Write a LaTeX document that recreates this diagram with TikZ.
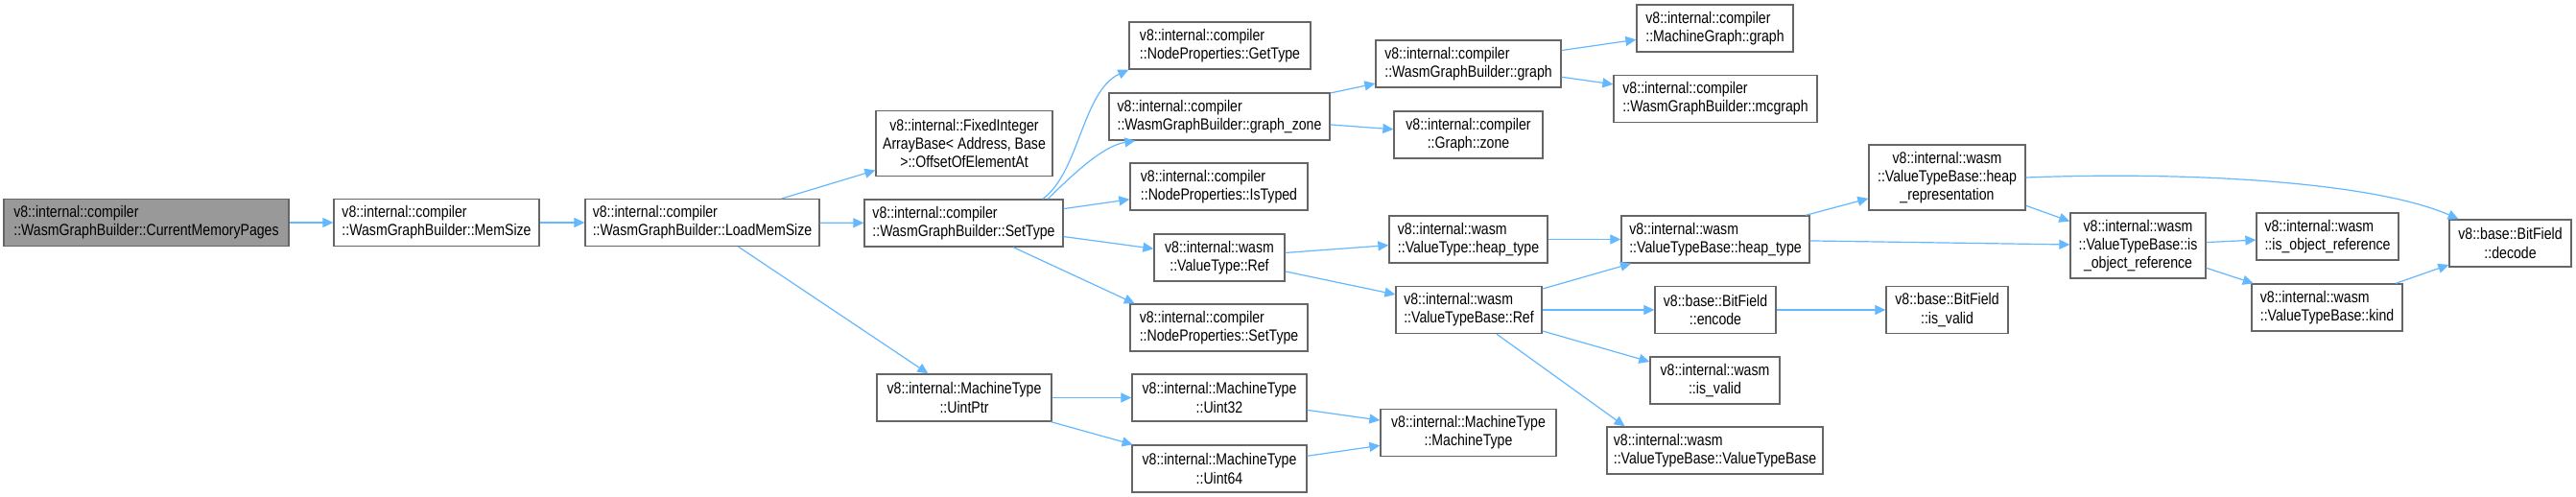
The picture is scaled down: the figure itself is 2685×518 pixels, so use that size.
\documentclass[tikz,border=0pt]{standalone}
\usepackage{fontspec}
\setmainfont[FakeStretch=0.84]{Liberation Sans}
\usetikzlibrary{arrows.meta}
\definecolor{edgeblue}{HTML}{63B8FF}
\definecolor{boxgray}{HTML}{666666}
\definecolor{curfill}{HTML}{999999}
\tikzset{
  fnode/.style={draw=boxgray, fill=white, line width=0.65pt, minimum height=24.5pt, inner xsep=1pt, align=left, font=\fontsize{8.4}{9.6}\selectfont},
  fnodec/.style={fnode, align=center},
  callarrow/.style={draw=edgeblue, line width=0.6pt, -{Triangle[length=5.5pt,width=5pt]}}
}
\begin{document}
\begin{tikzpicture}[x=0.5pt, y=-0.5pt]
\path[use as bounding box, fill=white] (0,0) rectangle (2685,518);
% column 0 to 2
\node[fnode, fill=curfill, minimum width=148.5pt] (cmp) at (152.5,232) {v8::internal::compiler\\::WasmGraphBuilder::CurrentMemoryPages};
\node[fnode, minimum width=107pt] (memsize) at (455,232) {v8::internal::compiler\\::WasmGraphBuilder::MemSize};
\node[fnode, minimum width=122pt] (loadmem) at (732,232) {v8::internal::compiler\\::WasmGraphBuilder::LoadMemSize};
\node[fnodec, minimum width=92pt, minimum height=34pt] (fixedint) at (1005,149.5) {v8::internal::FixedInteger\\ArrayBase< Address, Base\\>::OffsetOfElementAt};
\node[fnode, minimum width=103.5pt] (settype) at (1004.5,232.5) {v8::internal::compiler\\::WasmGraphBuilder::SetType};
\node[fnodec, minimum width=91pt] (uintptr) at (1005,414.5) {v8::internal::MachineType\\::UintPtr};
% column 3
\node[fnode, minimum width=94.5pt] (gettype) at (1271.5,47.5) {v8::internal::compiler\\::NodeProperties::GetType};
\node[fnode, minimum width=115pt] (graphzone) at (1271,121.5) {v8::internal::compiler\\::WasmGraphBuilder::graph\_zone};
\node[fnode, minimum width=92.5pt] (istyped) at (1270.5,194.5) {v8::internal::compiler\\::NodeProperties::IsTyped};
\node[fnodec, minimum width=68pt] (vtref) at (1271,268.5) {v8::internal::wasm\\::ValueType::Ref};
\node[fnode, minimum width=92.5pt] (npsettype) at (1270.5,341.5) {v8::internal::compiler\\::NodeProperties::SetType};
\node[fnodec, minimum width=91pt] (uint32) at (1271,414.5) {v8::internal::MachineType\\::Uint32};
\node[fnodec, minimum width=91pt] (uint64) at (1271,488.5) {v8::internal::MachineType\\::Uint64};
% column 4
\node[fnode, minimum width=96.5pt] (wgbgraph) at (1530.5,66.5) {v8::internal::compiler\\::WasmGraphBuilder::graph};
\node[fnodec, minimum width=77.5pt] (gzone) at (1530.5,140.5) {v8::internal::compiler\\::Graph::zone};
\node[fnode, minimum width=82.5pt] (vtheap) at (1530.5,249.5) {v8::internal::wasm\\::ValueType::heap\_type};
\node[fnode, minimum width=76pt] (vtbref) at (1531,323) {v8::internal::wasm\\::ValueTypeBase::Ref};
\node[fnodec, minimum width=91.5pt] (mtype) at (1530.5,451) {v8::internal::MachineType\\::MachineType};
% column 5
\node[fnode, minimum width=81.5pt] (mggraph) at (1787.5,29.5) {v8::internal::compiler\\::MachineGraph::graph};
\node[fnode, minimum width=106pt] (mcgraph) at (1788,103) {v8::internal::compiler\\::WasmGraphBuilder::mcgraph};
\node[fnode, minimum width=98pt] (vtbheap) at (1788,249.5) {v8::internal::wasm\\::ValueTypeBase::heap\_type};
\node[fnodec, minimum width=63pt] (encode) at (1788,323) {v8::base::BitField\\::encode};
\node[fnodec, minimum width=67.5pt] (isvalid) at (1787.5,396.5) {v8::internal::wasm\\::is\_valid};
\node[fnode, minimum width=112.5pt] (vtbctor) at (1787.5,469.5) {v8::internal::wasm\\::ValueTypeBase::ValueTypeBase};
% column 6 to 9
\node[fnodec, minimum width=81.5pt, minimum height=34pt] (heaprep) at (2029.5,185) {v8::internal::wasm\\::ValueTypeBase::heap\\\_representation};
\node[fnodec, minimum width=63.5pt] (bfvalid) at (2029.5,323) {v8::base::BitField\\::is\_valid};
\node[fnodec, minimum width=70.5pt, minimum height=34pt] (isobjref) at (2228.5,256) {v8::internal::wasm\\::ValueTypeBase::is\\\_object\_reference};
\node[fnode, minimum width=74pt] (wisobjref) at (2426,246.5) {v8::internal::wasm\\::is\_object\_reference};
\node[fnode, minimum width=78.5pt] (kind) at (2425.5,320.5) {v8::internal::wasm\\::ValueTypeBase::kind};
\node[fnodec, minimum width=63.5pt] (decode) at (2616.5,253.5) {v8::base::BitField\\::decode};
% calls
\draw[callarrow] (cmp) -- (memsize);
\draw[callarrow] (memsize) -- (loadmem);
\draw[callarrow] (loadmem) -- (fixedint);
\draw[callarrow] (loadmem) -- (settype);
\draw[callarrow] (loadmem) -- (uintptr);
\draw[callarrow] (settype.17) .. controls (1125,180) and (1128,95) .. (gettype.south west);
\draw[callarrow] (settype.16) .. controls (1120,180) and (1150,152) .. (graphzone.-164);
\draw[callarrow] (settype) -- (istyped);
\draw[callarrow] (settype) -- (vtref);
\draw[callarrow] (settype.-26) -- (npsettype.164);
\draw[callarrow] (uintptr) -- (uint32);
\draw[callarrow] (uintptr) -- (uint64);
\draw[callarrow] (graphzone) -- (wgbgraph);
\draw[callarrow] (graphzone) -- (gzone);
\draw[callarrow] (vtref) -- (vtheap);
\draw[callarrow] (vtref) -- (vtbref);
\draw[callarrow] (uint32) -- (mtype);
\draw[callarrow] (uint64) -- (mtype);
\draw[callarrow] (wgbgraph) -- (mggraph);
\draw[callarrow] (wgbgraph) -- (mcgraph);
\draw[callarrow] (vtheap) -- (vtbheap);
\draw[callarrow] (vtbref) -- (vtbheap);
\draw[callarrow] (vtbref) -- (encode);
\draw[callarrow] (vtbref) -- (isvalid);
\draw[callarrow] (vtbref.-41) -- (vtbctor.165);
\draw[callarrow] (encode) -- (bfvalid);
\draw[callarrow] (vtbheap) -- (heaprep);
\draw[callarrow] (vtbheap) -- (isobjref);
\draw[callarrow] (heaprep) -- (isobjref);
\draw[callarrow] (heaprep.east) .. controls (2300,178) and (2480,192) .. (decode.155);
\draw[callarrow] (isobjref) -- (wisobjref);
\draw[callarrow] (isobjref) -- (kind);
\draw[callarrow] (kind) -- (decode);
\end{tikzpicture}
\end{document}
